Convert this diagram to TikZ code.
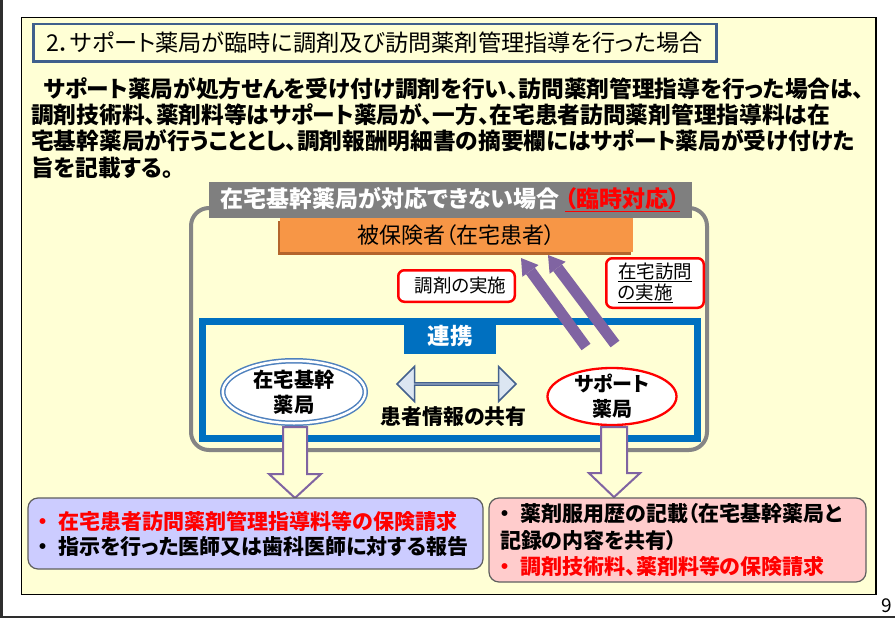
\documentclass[tikz,border=0pt]{standalone}
\usepackage{fontspec}
\setmainfont{Noto Sans CJK JP}[RawFeature=+palt]
\usetikzlibrary{arrows.meta,positioning,shapes.geometric,shapes.arrows}
\definecolor{panelyel}{HTML}{FFFFD5}
\definecolor{titleblue}{HTML}{3F5F8C}
\definecolor{framegrey}{HTML}{858585}
\definecolor{headgrey}{HTML}{7F7F7F}
\definecolor{patorange}{HTML}{F79646}
\definecolor{patshadow}{HTML}{B4652C}
\definecolor{linkblue}{HTML}{0070C0}
\definecolor{ellblue}{HTML}{4F81BD}
\definecolor{sharefill}{HTML}{DCE6F2}
\definecolor{shareline}{HTML}{44618D}
\definecolor{purp}{HTML}{8064A2}
\definecolor{lavender}{HTML}{CCCCFF}
\definecolor{pinkbox}{HTML}{FFCCCC}
\definecolor{boxline}{HTML}{5F5F5F}
\definecolor{edgegrey}{HTML}{2E2E2E}
\newcommand{\fs}[2]{\fontsize{#1}{#2}\selectfont}

\begin{document}
\begin{tikzpicture}[x=1pt, y=-1pt,
  every node/.style={inner sep=0pt},
  panel/.style={draw=black, line width=1.3pt, fill=panelyel},
  titlebox/.style={draw=titleblue, line width=2.7pt, fill=panelyel, align=left,
                   font=\fs{23.2}{28}},
  para/.style={align=left, font=\fs{22.7}{26.3}\bfseries},
  frame/.style={draw=framegrey, line width=4pt, rounded corners=18pt},
  headbox/.style={fill=headgrey, text=white, font=\fs{23}{28}\bfseries},
  patient/.style={fill=patorange, font=\fs{22}{26},
                  preaction={fill=patshadow, transform canvas={shift={(-2.5pt,-2.5pt)}}}},
  redtag/.style={draw=red, line width=2.5pt, rounded corners=6pt, fill=white,
                 align=left, font=\fs{18.5}{21}},
  linkframe/.style={draw=linkblue, line width=7pt},
  linktag/.style={fill=linkblue, text=white, font=\fs{22.5}{26}\bfseries},
  ellt/.style={align=center, font=\fs{20.3}{25}\bfseries},
  hollow/.style={draw=purp, line width=2pt, fill=panelyel, line join=miter},
  upstroke/.style={draw=purp, line width=11pt,
                   -{Triangle[length=16pt, width=20pt, line width=0pt]}},
  billbox/.style={draw=boxline, line width=1.2pt, rounded corners=10pt, align=left},
]
  \useasboundingbox (0,0) rectangle (895,619);
  \fill[white] (0,0) rectangle (895,619);

  %% slide edges and page number
  \fill[edgegrey] (0,0) rectangle (3.3,618);
  \draw[edgegrey, line width=2pt] (0,617) -- (895,617);
  \node[font=\fs{19}{20}] (pageno) at (887,606) {9};

  %% yellow panel, title and lead text
  \node[panel, minimum width=854.5pt, minimum height=577pt] (panel) at (448.75,306) {};
  \node[titlebox, minimum width=683.3pt, minimum height=37.3pt, text width=658pt]
    (title) at (375,42.7) {2．サポート薬局が臨時に調剤及び訪問薬剤管理指導を行った場合};
  \node[para, anchor=north west] (lead) at (31,77)
    {\hspace{12pt}サポート薬局が処方せんを受け付け調剤を行い、訪問薬剤管理指導を行った場合は、\\
     調剤技術料、薬剤料等はサポート薬局が、一方、在宅患者訪問薬剤管理指導料は在\\
     宅基幹薬局が行うこととし、調剤報酬明細書の摘要欄にはサポート薬局が受け付けた\\
     旨を記載する。};

  %% grey frame with its header
  \node[frame, minimum width=516pt, minimum height=242pt] (case) at (449,329) {};
  \node[headbox, minimum width=483pt, minimum height=36pt] (header) at (450.5,200)
    {在宅基幹薬局が対応できない場合 {\color{red}\underline{（臨時対応）}}};
  \node[patient, minimum width=353pt, minimum height=34pt] (patient) at (456.5,235)
    {被保険者（在宅患者）};
  \node[redtag, minimum width=116.5pt, minimum height=31.5pt] (disp) at (456.5,286)
    {\hspace{8pt}調剤の実施};
  \node[redtag, minimum width=97.5pt, minimum height=49.5pt] (visit) at (655,283)
    {\underline{在宅訪問}\\\underline{の実施}};

  %% blue cooperation frame
  \node[linkframe, minimum width=495pt, minimum height=117pt] (link) at (450,380) {};
  \node[linktag, minimum width=92pt, minimum height=36pt] (linktag) at (450,336) {連携};

  %% the two pharmacies
  \node[ellipse, draw=ellblue, line width=1.5pt, double=white, double distance=2.5pt,
        fill=white, minimum width=142.5pt, minimum height=62.5pt,
        label={[ellt]center:在宅基幹\\薬局}] (kanbu) at (294,392) {};
  \node[ellipse, draw=red, line width=2.3pt, fill=white,
        minimum width=129pt, minimum height=57pt,
        label={[ellt, font=\fs{20}{25}\bfseries]center:サポート\\薬局}] (support) at (612,396.5) {};

  \node[double arrow, draw=shareline, line width=1.5pt, fill=sharefill,
        double arrow head extend=10pt, minimum width=35pt, minimum height=119pt]
    (share) at (456.5,384) {};
  \node[font=\fs{20.9}{24}\bfseries] (sharetxt) at (453.5,417) {患者情報の共有};

  %% hollow arrows down to the claims
  \draw[hollow, shift={(kanbu.south)}]
    (-11,3) -- (-11,50) -- (-25,50) -- (1,74) -- (27,50) -- (13,50) -- (13,3) -- cycle;
  \draw[hollow, shift={(support.south)}]
    (-11,1) -- (-11,47) -- (-23,47) -- (2,71) -- (28,47) -- (15,47) -- (15,1) -- cycle;

  %% claims boxes
  \node[billbox, fill=lavender, minimum width=455pt, minimum height=71pt,
        text width=435pt, inner xsep=10pt, font=\fs{21}{25}\bfseries] (leftbill) at (255.5,533.5)
    {{\color{red}・\hspace{10pt}在宅患者訪問薬剤管理指導料等の保険請求}\\
     ・\hspace{10pt}指示を行った医師又は歯科医師に対する報告};
  \node[billbox, fill=pinkbox, minimum width=377pt, minimum height=84pt,
        text width=355pt, inner xsep=11pt, font=\fs{21}{26.5}\bfseries] (rightbill) at (677.5,540)
    {・\hspace{10pt}薬剤服用歴の記載（在宅基幹薬局と\\
     記録の内容を共有）\\
     {\color{red}・\hspace{10pt}調剤技術料、薬剤料等の保険請求}};

  %% support pharmacy goes to the patient
  \coordinate (dispS)  at (586,347);
  \coordinate (dispE)  at (521,258);
  \coordinate (visitS) at (615,344);
  \coordinate (visitE) at (548,255);
  \draw[upstroke] (dispS) -- (dispE);
  \draw[upstroke] (visitS) -- (visitE);

\end{tikzpicture}
\end{document}
